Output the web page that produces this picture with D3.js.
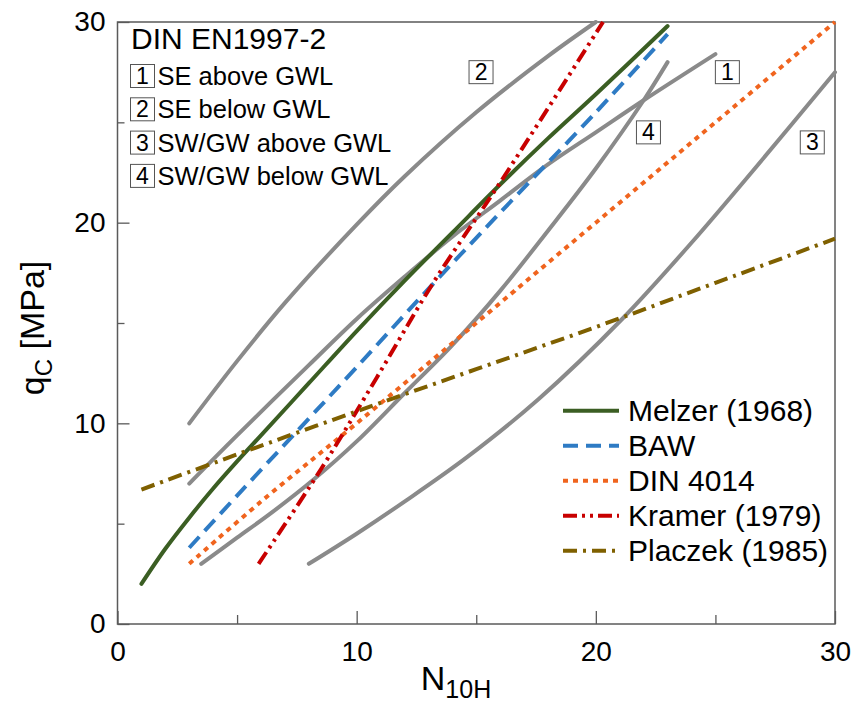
<!DOCTYPE html>
<html><head><meta charset="utf-8">
<script src="https://cdn.jsdelivr.net/npm/d3@7"></script>
<style>body{margin:0;background:#fff}svg{display:block}text{font-family:"Liberation Sans",Arial,sans-serif}</style>
</head><body>
<svg id="c" width="857" height="713"></svg>
<script>
// ---- data ----
const xTicks = [0, 10, 20, 30];
const xMinor = [5, 15, 25];
const yTicks = [0, 10, 20, 30];
const yMinor = [5, 15, 25];

// DIN EN1997-2 gray curves
const c1N = [3, 5, 8, 10, 12, 14, 16, 18, 20, 22, 25];
const c1Q = [7.0, 9.4, 12.9, 15.2, 17.3, 19.3, 21.1, 22.9, 24.5, 26.1, 28.4];
const c2N = [3, 5, 7, 10, 12, 15, 18, 20];
const c2Q = [10, 13.1, 16.0, 19.9, 22.3, 25.5, 28.3, 30];
const c3N = [8, 10, 12, 14.6, 17.6, 21.1, 24, 27, 30];
const c3Q = [3, 4.5, 6.1, 8.3, 11.2, 15.2, 19, 23.2, 27.5];
const c4N = [3.5, 5, 6.5, 8.2, 10, 12, 14, 16, 18, 20, 22, 23];
const c4Q = [3, 4.3, 5.6, 7.2, 9.1, 11.5, 13.9, 16.6, 19.6, 22.7, 26.1, 28];

const grayLabels = ["1", "2", "3", "4"];
const grayLabelN = [25.5, 15.2, 29.05, 22.2];
const grayLabelQ = [27.5, 27.5, 24.0, 24.5];
const grayNames = ["SE above GWL", "SE below GWL", "SW/GW above GWL", "SW/GW below GWL"];

// correlations
const melzerN = [1, 2, 3, 4, 5, 6, 8, 10, 12, 14, 16, 18, 20, 23];
const melzerQ = [2.0, 3.75, 5.3, 6.75, 8.1, 9.4, 12.0, 14.6, 17.1, 19.5, 21.9, 24.2, 26.4, 29.8];
const bawN = [3, 5, 7.5, 10, 13, 16, 20, 23];
const bawQ = [3.8, 6.4, 9.6, 12.8, 16.7, 20.5, 25.5, 29.4];
const dinN = [3, 6, 10, 15, 20, 25, 30];
const dinQ = [3, 6.1, 10, 15, 20, 25, 30];
const kramerN = [5.9, 8.5, 10.85, 13.2, 16, 20.3];
const kramerQ = [3, 7.7, 12.3, 17.0, 22, 30];
const placzekN = [1, 5, 10, 15, 20, 25, 30];
const placzekQ = [6.7, 8.45, 10.6, 12.7, 14.8, 17.0, 19.2];

const seriesNames = ["Melzer (1968)", "BAW", "DIN 4014", "Kramer (1979)", "Placzek (1985)"];

// ---- drawing ----
const svg = d3.select("#c");
const L = 117.5, R = 835, T = 22, B = 624;
const x = d3.scaleLinear().domain([0, 30]).range([L, R]);
const y = d3.scaleLinear().domain([0, 30]).range([B, T]);
const axisColor = "#5a5a5a";

const zip = (a, b) => a.map((v, i) => [v, b[i]]);
const line = d3.line().x(d => x(d[0])).y(d => y(d[1])).curve(d3.curveCatmullRom.alpha(0.5));

// frame
svg.append("rect").attr("x", L).attr("y", T).attr("width", R - L).attr("height", B - T)
  .attr("fill", "none").attr("stroke", axisColor).attr("stroke-width", 1.5);

function styleAxis(g) {
  g.select(".domain").remove();
  g.selectAll("line").attr("stroke", axisColor).attr("stroke-width", 1.3);
  g.selectAll("text").attr("font-size", 28).attr("fill", "#000")
    .attr("font-family", "'Liberation Sans', Arial, sans-serif");
}
svg.append("g").attr("transform", `translate(0,${B})`)
  .call(d3.axisBottom(x).tickValues(xTicks).tickSize(-13).tickPadding(17).tickFormat(d3.format("d"))).call(styleAxis);
svg.append("g").attr("transform", `translate(0,${B})`)
  .call(d3.axisBottom(x).tickValues(xMinor).tickSize(-9).tickFormat("")).call(styleAxis);
svg.append("g").attr("transform", `translate(${L},0)`)
  .call(d3.axisLeft(y).tickValues(yTicks).tickSize(-12).tickPadding(12).tickFormat(d3.format("d"))).call(styleAxis);
svg.append("g").attr("transform", `translate(${L},0)`)
  .call(d3.axisLeft(y).tickValues(yMinor).tickSize(-7).tickFormat("")).call(styleAxis);

// axis titles
const xt = svg.append("text").attr("x", 456).attr("y", 690).attr("text-anchor", "middle").attr("font-size", 34);
xt.append("tspan").text("N");
xt.append("tspan").attr("font-size", 25).attr("dy", 8).text("10H");
const yt = svg.append("text").attr("transform", "translate(44,328) rotate(-90)").attr("text-anchor", "middle").attr("font-size", 34);
yt.append("tspan").text("q");
yt.append("tspan").attr("font-size", 24).attr("dy", 8).text("C");
yt.append("tspan").attr("dy", -8).text(" [MPa]");

// gray curves
const gray = "#8a8a8a";
[[c1N, c1Q], [c2N, c2Q], [c3N, c3Q], [c4N, c4Q]].forEach(([n, q]) => {
  svg.append("path").attr("d", line(zip(n, q))).attr("fill", "none")
    .attr("stroke", gray).attr("stroke-width", 4).attr("stroke-linecap", "round");
});

// correlation lines
const styles = [
  {n: melzerN, q: melzerQ, color: "#3b5e23", dash: null, cap: "round"},
  {n: bawN, q: bawQ, color: "#2e7bc4", dash: "15,8", cap: "butt"},
  {n: dinN, q: dinQ, color: "#f0641e", dash: "5,5", cap: "butt"},
  {n: kramerN, q: kramerQ, color: "#c80000", dash: "14,5,3,5,3,5", cap: "butt"},
  {n: placzekN, q: placzekQ, color: "#7f6000", dash: "14,6,3,6", cap: "butt"}
];
styles.forEach(s => {
  svg.append("path").attr("d", line(zip(s.n, s.q))).attr("fill", "none")
    .attr("stroke", s.color).attr("stroke-width", 4).attr("stroke-linecap", s.cap)
    .attr("stroke-dasharray", s.dash);
});

// boxed labels in the plot
function boxLabel(cx, cy, t) {
  svg.append("rect").attr("x", cx - 12).attr("y", cy - 11.5).attr("width", 24).attr("height", 23)
    .attr("fill", "#fff").attr("stroke", "#555").attr("stroke-width", 1);
  svg.append("text").attr("x", cx).attr("y", cy).attr("text-anchor", "middle")
    .attr("dominant-baseline", "central").attr("font-size", 23).text(t);
}
grayLabels.forEach((t, i) => boxLabel(x(grayLabelN[i]), y(grayLabelQ[i]), t));

// annotation
svg.append("text").attr("x", 131).attr("y", 49).attr("font-size", 30).text("DIN EN1997-2");
grayNames.forEach((nm, i) => {
  const cy = 76 + i * 33.3;
  boxLabel(142.5, cy, grayLabels[i]);
  svg.append("text").attr("x", 157.5).attr("y", cy).attr("dominant-baseline", "central")
    .attr("font-size", 25.5).text(nm);
});

// legend
styles.forEach((s, i) => {
  const ly = 410.7 + i * 35;
  svg.append("line").attr("x1", 563).attr("x2", 619).attr("y1", ly).attr("y2", ly)
    .attr("stroke", s.color).attr("stroke-width", 4).attr("stroke-dasharray", s.dash);
  svg.append("text").attr("x", 628).attr("y", ly).attr("dominant-baseline", "central")
    .attr("font-size", 30).text(seriesNames[i]);
});
</script>
</body></html>
